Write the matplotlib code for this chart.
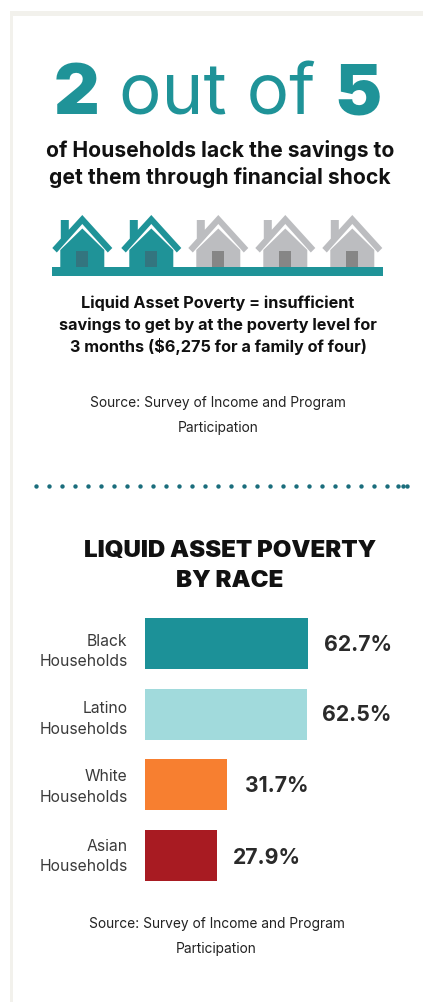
import numpy as np
import matplotlib
matplotlib.use("Agg")
import matplotlib.pyplot as plt
from matplotlib.patches import Polygon, Rectangle

groups = ["Black\nHouseholds", "Latino\nHouseholds", "White\nHouseholds", "Asian\nHouseholds"]
values = [62.7, 62.5, 31.7, 27.9]
bar_colors = ["#1c9198", "#a1dadc", "#f77f30", "#a81b22"]
houses_total = 5
houses_filled = 2

TEAL = "#1f9398"
GREY = "#bcbdc0"
FONT = "Inter"
W, H = 423, 1002

fig = plt.figure(figsize=(W / 100, H / 100), dpi=100, facecolor="white")
bg = fig.add_axes([0, 0, 1, 1])
bg.set_xlim(0, W)
bg.set_ylim(H, 0)
bg.axis("off")

def T(x, y, s, size, weight="normal", color="#111111", ha="center", family=FONT, **kw):
    return bg.text(x, y, s, fontsize=size, fontweight=weight, color=color, ha=ha,
                   va="baseline", family=family, **kw)

# page frame
bg.add_patch(Rectangle((10, 11), W - 10, 5, fc="#f2f1ec", ec="none"))
bg.add_patch(Rectangle((10, 11), 3, H - 11, fc="#f2f1ec", ec="none"))

# headline
T(76.5, 114, "2", 51, "black", TEAL)
T(217, 114, "out of", 51, "normal", TEAL)
T(357.5, 114, "5", 51, "black", TEAL)
T(220, 157, "of Households lack the savings to", 15.2, "bold")
T(220, 184, "get them through financial shock", 15.2, "bold")

# pictogram
def house(cx, filled):
    c = TEAL if filled else GREY
    door = "#33757f" if filled else "#868686"
    bg.add_patch(Polygon([(cx - 30, 248), (cx - 21.5, 238.6), (cx - 21.5, 220), (cx - 13.5, 220),
                          (cx - 13.5, 229.8), (cx, 215), (cx + 30, 248), (cx + 25.5, 252.5),
                          (cx, 224), (cx - 25.5, 252.5)], closed=True, fc=c, ec="none"))
    bg.add_patch(Polygon([(cx - 22, 267), (cx - 22, 250), (cx, 228.5), (cx + 22, 250),
                          (cx + 22, 267)], closed=True, fc=c, ec="none"))
    bg.add_patch(Rectangle((cx - 6, 251), 12, 16, fc=door, ec="none"))

for i in range(houses_total):
    house(82.3 if i == 0 else 151.3 + 67 * (i - 1), i < houses_filled)
bg.add_patch(Rectangle((52, 267), 331, 9, fc=TEAL, ec="none"))

# definition
T(218, 308, "Liquid Asset Poverty = insufficient", 11.7, "bold")
T(218, 330, "savings to get by at the poverty level for", 11.7, "bold")
T(218, 352, "3 months ($6,275 for a family of four)", 11.7, "bold")
T(218, 407, "Source: Survey of Income and Program", 9.9, color="#222222")
T(218, 432, "Participation", 9.9, color="#222222")

# dotted divider
dots = np.r_[np.arange(36, 390, 13.0), 398.3, 402.7, 406.7]
bg.scatter(dots, np.full(dots.shape, 485.5), s=10, color="#1a6d7c", linewidths=0)

# bar title
T(230, 557.5, "LIQUID ASSET POVERTY", 17.3, "black")
T(230, 587, "BY RACE", 17.3, "black")

# bars
px_per_unit = 163.5 / 62.7
ax_left, ax_right = 144.5, 420
ax_top, ax_bottom = 608, 891
ax = fig.add_axes([ax_left / W, 1 - ax_bottom / H, (ax_right - ax_left) / W, (ax_bottom - ax_top) / H])
ax.patch.set_alpha(0)
ax.barh(range(len(values)), values, height=0.72, color=bar_colors)
ax.set_xlim(0, (ax_right - ax_left) / px_per_unit)
ax.set_ylim(len(values) - 0.5, -0.5)
ax.axis("off")

label_base = [646, 713, 781, 850.7]
value_x = [324, 322, 245, 233]
value_base = [651, 721, 792, 864]
for g, v, lb, vx, vb in zip(groups, values, label_base, value_x, value_base):
    a, b = g.split("\n")
    T(127.5, lb, a, 11.3, color="#3a3a3a", ha="right")
    T(127.5, lb + 20.5, b, 11.3, color="#3a3a3a", ha="right")
    T(vx, vb, f"{v}%", 15.3, "bold", "#2a2a2a", ha="left")

T(216.5, 928, "Source: Survey of Income and Program", 9.9, color="#222222")
T(216.5, 953, "Participation", 9.9, color="#222222")

fig.savefig("out.png", dpi=100)
